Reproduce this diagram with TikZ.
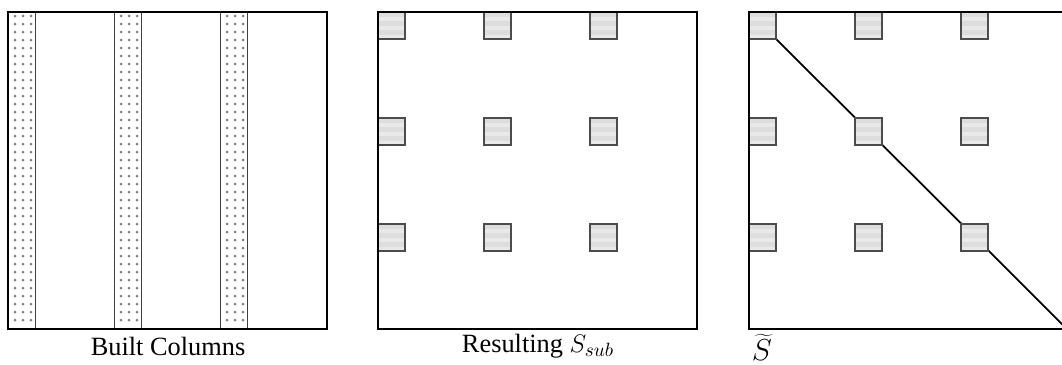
\documentclass[tikz,border=0pt]{standalone}
\usepackage{fontspec}
\setmainfont{Liberation Serif}
\usetikzlibrary{positioning}

\begin{document}
\begin{tikzpicture}[
    x=0.02cm, y=-0.02cm,
    every node/.style={font=\fontsize{15}{18}\selectfont},
    panel/.style={draw=black, line width=1.1pt},
    colbox/.style={draw=black!75, line width=0.5pt},
    blockbox/.style={draw=black!70, line width=0.6pt},
]
\useasboundingbox (0,0) rectangle (1062,365);
% --- left panel: the built columns, dotted
\foreach \cx in {8,114,220} {
   \foreach \dy in {16,24,...,320} {
      \foreach \dx in {7,15,23} {
         \fill[gray] (\cx+\dx,\dy) circle (1.5);
      }
   }
   \draw[colbox] (\cx,12) rectangle (\cx+27,329);
}
\draw[panel] (8,12) rectangle (327,329);
\node (lblcols) at (168,346) {Built Columns};
% --- middle panel: blocks picked out of the columns
\foreach \bx in {378,484,590} {
   \foreach \by in {12,118,224} {
      \foreach \s [evaluate=\s as \ys using \by+\s*4.5] in {0,...,5} {
         \pgfmathtruncatemacro{\odd}{mod(\s,2)}
         \ifnum\odd=0
            \fill[gray!27] (\bx,\ys) rectangle (\bx+27,\ys+4.5);
         \else
            \fill[gray!17] (\bx,\ys) rectangle (\bx+27,\ys+4.5);
         \fi
      }
      \draw[blockbox] (\bx,\by) rectangle (\bx+27,\by+27);
   }
}
\draw[panel] (378,12) rectangle (697,329);
\node (lblsub) at (538,346) {Resulting $S_{sub}$};
% --- right panel: same blocks, with the diagonal
\draw[line width=1pt] (749,12) -- (1067,329);
\foreach \bx in {749,855,961} {
   \foreach \by in {12,118,224} {
      \foreach \s [evaluate=\s as \ys using \by+\s*4.5] in {0,...,5} {
         \pgfmathtruncatemacro{\odd}{mod(\s,2)}
         \ifnum\odd=0
            \fill[gray!27] (\bx,\ys) rectangle (\bx+27,\ys+4.5);
         \else
            \fill[gray!17] (\bx,\ys) rectangle (\bx+27,\ys+4.5);
         \fi
      }
      \draw[blockbox] (\bx,\by) rectangle (\bx+27,\by+27);
   }
}
\draw[panel] (749,12) rectangle (1067,329);
\node[font=\fontsize{17}{20}\selectfont] (lbltilde) at (762,347) {$\widetilde{S}$};
\end{tikzpicture}
\end{document}
